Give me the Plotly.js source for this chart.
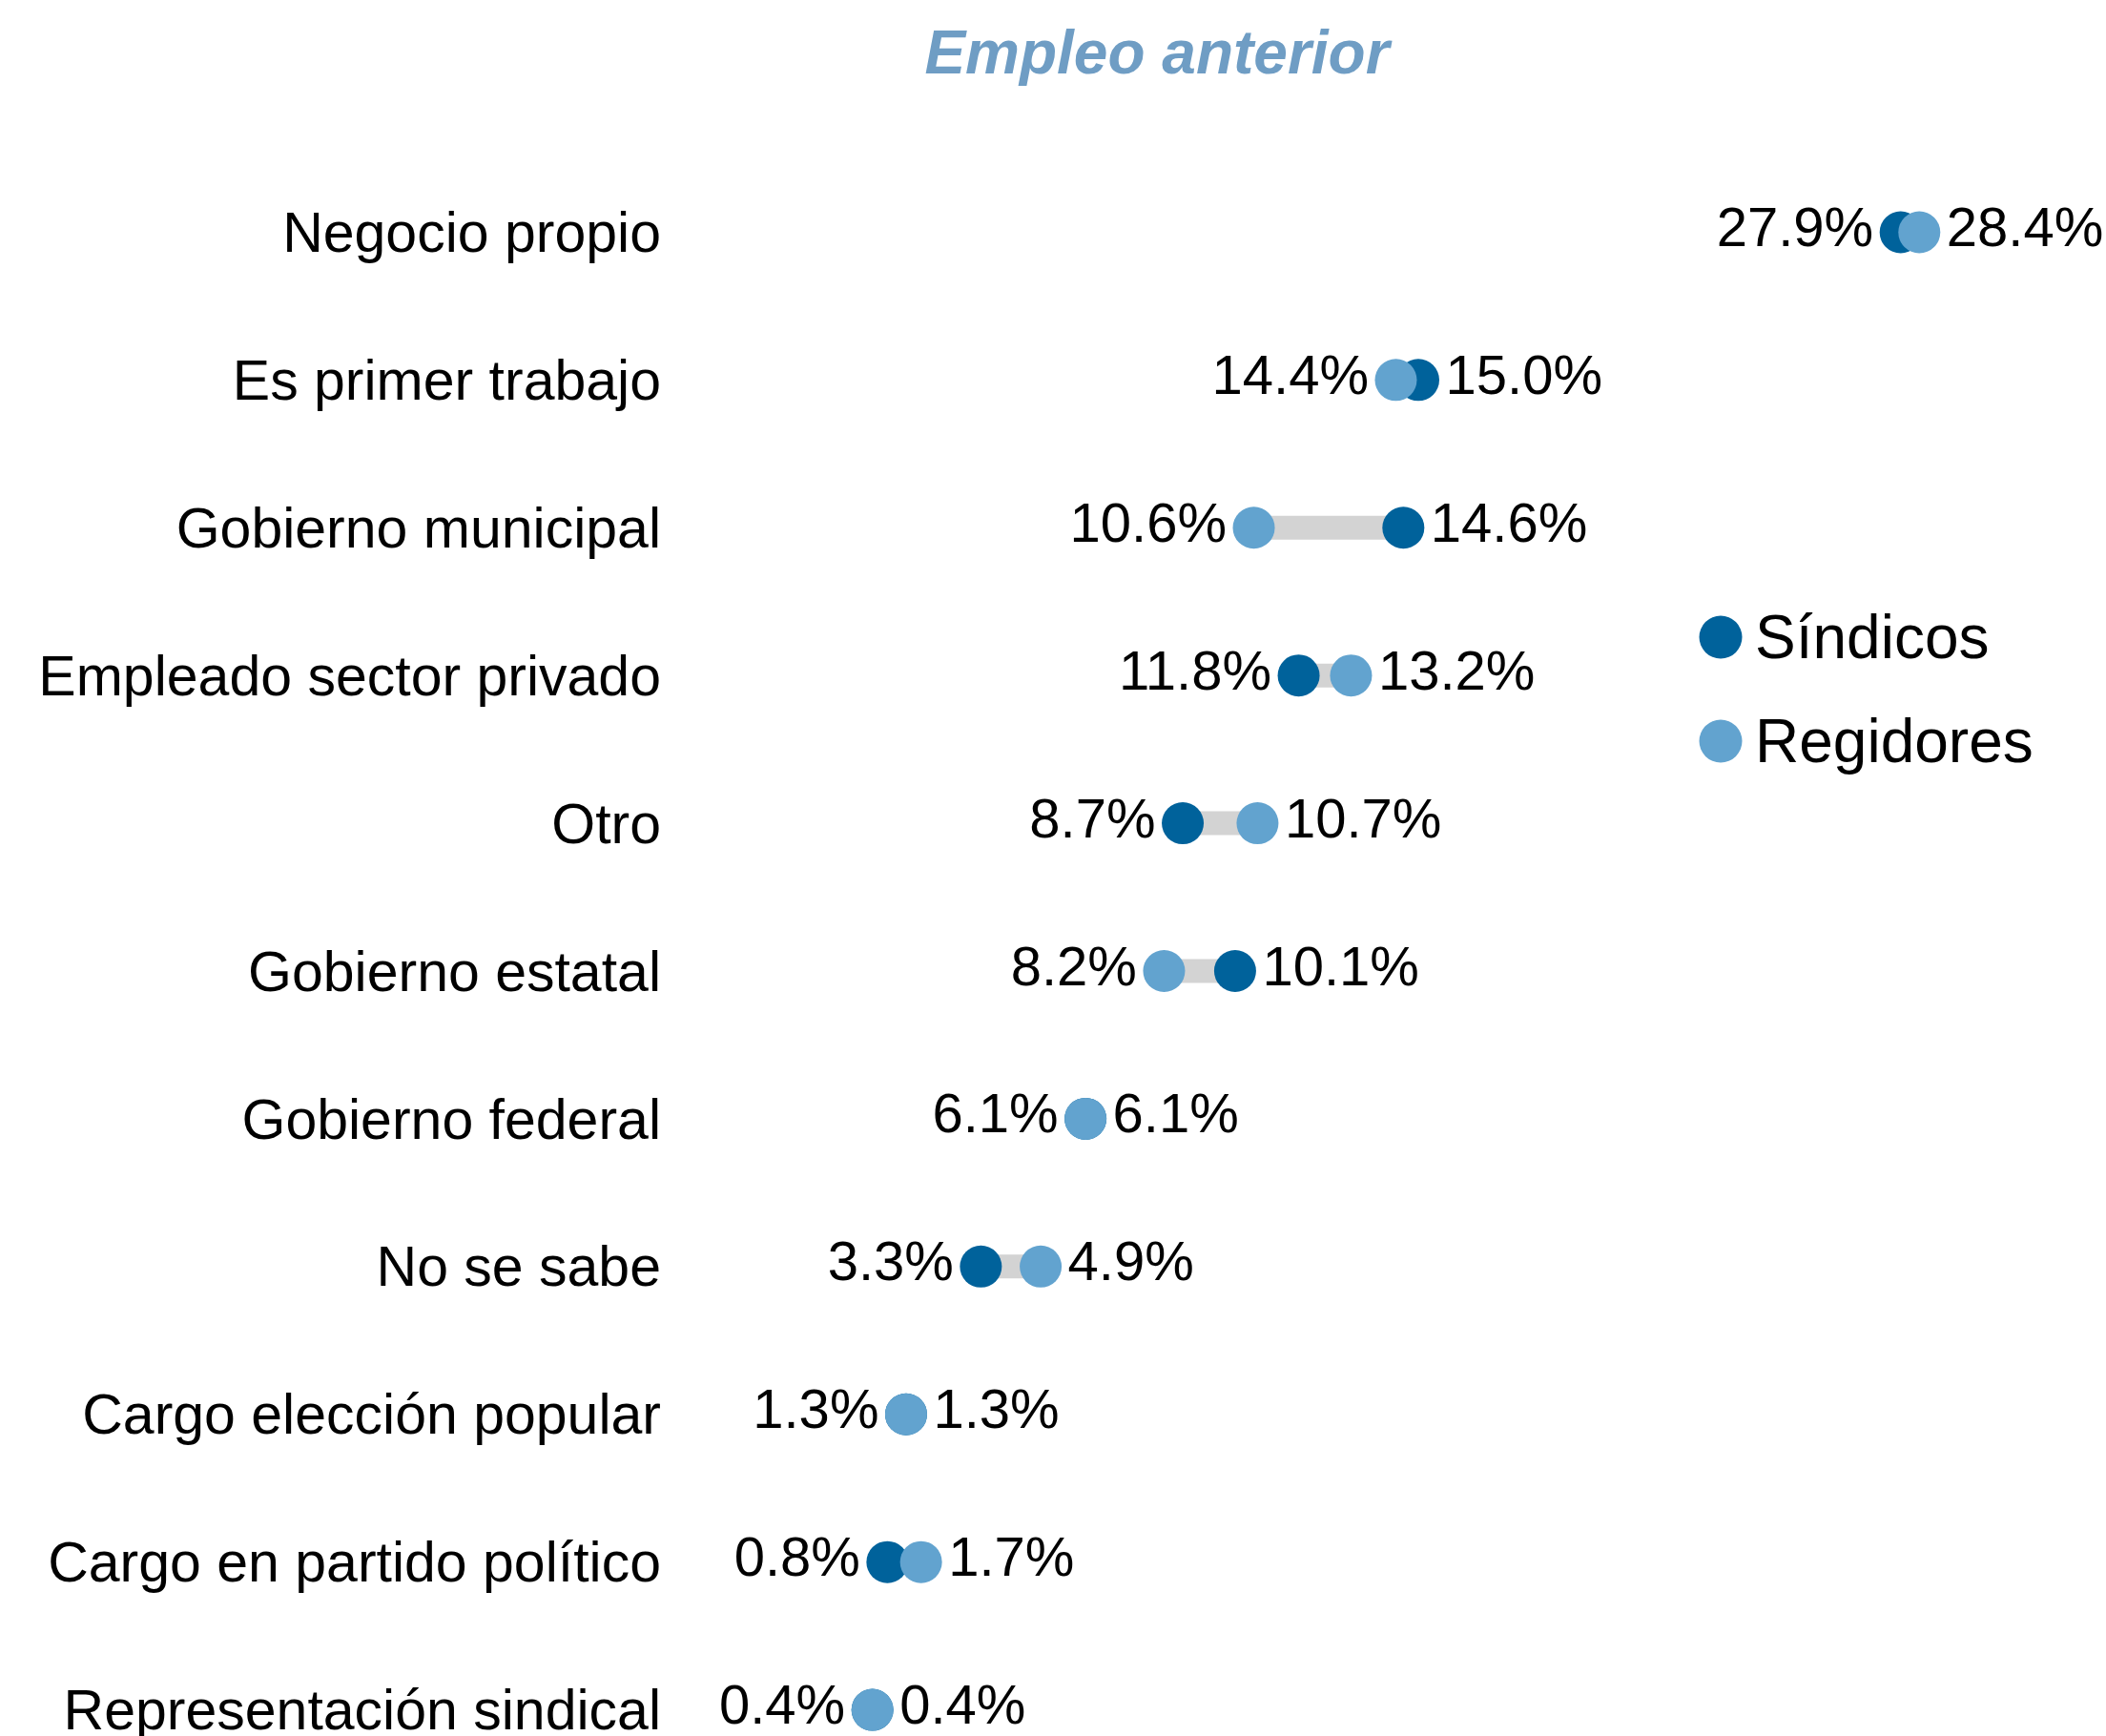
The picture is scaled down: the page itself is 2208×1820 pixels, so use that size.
<!DOCTYPE html>
<html>
<head>
<meta charset="utf-8">
<script src="https://cdn.plot.ly/plotly-3.0.1.min.js"></script>
<style>html,body{margin:0;padding:0;background:#fff;}#chart{width:2208px;height:1820px;}</style>
</head>
<body>
<div id="chart"></div>
<script>
const categories = ["Negocio propio","Es primer trabajo","Gobierno municipal","Empleado sector privado","Otro","Gobierno estatal","Gobierno federal","No se sabe","Cargo elección popular","Cargo en partido político","Representación sindical"];
const sindicos  = [27.9, 15.0, 14.6, 11.8, 8.7, 10.1, 6.1, 3.3, 1.3, 0.8, 0.4];
const regidores = [28.4, 14.4, 10.6, 13.2, 10.7, 8.2, 6.1, 4.9, 1.3, 1.7, 0.4];
const seriesNames = ["Síndicos", "Regidores"];

const darkBlue = "#00629b", lightBlue = "#62a3cf", segGrey = "#d3d3d3";
const fontFam = "Liberation Sans, Arial, Helvetica, sans-serif";

// connecting segments (one trace, null-separated)
const segX = [], segY = [];
categories.forEach((c, i) => { segX.push(sindicos[i], regidores[i], null); segY.push(c, c, null); });

const fmt = v => v.toFixed(1) + "%";
const sPos = sindicos.map((v, i) => v <= regidores[i] ? "middle left" : "middle right");
const rPos = regidores.map((v, i) => v < sindicos[i] ? "middle left" : "middle right");

const traces = [
  {type: "scatter", mode: "lines", x: segX, y: segY, line: {color: segGrey, width: 25}, hoverinfo: "skip", showlegend: false},
  {type: "scatter", mode: "markers+text", name: seriesNames[0], x: sindicos, y: categories,
   marker: {color: darkBlue, size: 44}, text: sindicos.map(fmt), textposition: sPos,
   textfont: {family: fontFam, size: 58, color: "#000"}, cliponaxis: false, showlegend: false},
  {type: "scatter", mode: "markers+text", name: seriesNames[1], x: regidores, y: categories,
   marker: {color: lightBlue, size: 44}, text: regidores.map(fmt), textposition: rPos,
   textfont: {family: fontFam, size: 58, color: "#000"}, cliponaxis: false, showlegend: false}
];

const W = 2208, H = 1820, ML = 700, MT = 166;
const pw = W - ML, ph = H - MT;
const px = x => (x - ML) / pw;
const py = y => 1 - (y - MT) / ph;

const legendColors = [darkBlue, lightBlue];
const legendY = [668, 777];
const shapes = legendColors.map((c, i) => ({
  type: "circle", xref: "paper", yref: "paper", xsizemode: "pixel", ysizemode: "pixel",
  xanchor: px(1804), yanchor: py(legendY[i]), x0: -22.5, x1: 22.5, y0: -22.5, y1: 22.5,
  fillcolor: c, line: {width: 0}
}));
const annotations = seriesNames.map((n, i) => ({
  xref: "paper", yref: "paper", x: px(1838), y: py(legendY[i]), xanchor: "left", yanchor: "middle",
  text: n, showarrow: false, font: {family: fontFam, size: 64, color: "#000"}
}));

const layout = {
  width: W, height: H,
  margin: {l: ML, r: 0, t: MT, b: 0, pad: 0},
  paper_bgcolor: "#fff", plot_bgcolor: "#fff",
  title: {text: "<b><i>Empleo anterior</i></b>", xref: "container", yref: "container",
          x: 1213 / W, xanchor: "center", y: 1 - 55 / H, yanchor: "middle",
          font: {family: fontFam, size: 64, color: "#6f9dc4"}},
  xaxis: {range: [(ML - 899) / 39.2, (W - 899) / 39.2], visible: false, fixedrange: true},
  yaxis: {type: "category", categoryorder: "array", categoryarray: categories,
          range: [10.177, -0.5], showgrid: false, zeroline: false, showline: false, ticks: "",
          ticklabelstandoff: 6,
          tickfont: {family: fontFam, size: 59, color: "#000"}, automargin: false},
  shapes: shapes,
  annotations: annotations,
  showlegend: false
};

Plotly.newPlot("chart", traces, layout, {displayModeBar: false, staticPlot: true});
</script>
</body>
</html>
